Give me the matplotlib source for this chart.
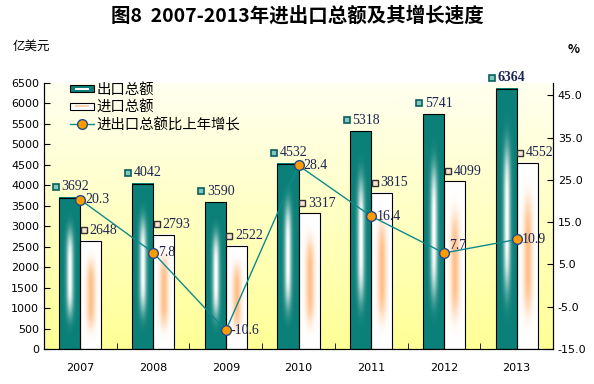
import numpy as np
import matplotlib.pyplot as plt
from matplotlib.patches import Patch, Rectangle
from matplotlib.lines import Line2D
from matplotlib.legend_handler import HandlerPatch

plt.rcParams['font.family'] = ['Noto Sans CJK SC', 'DejaVu Sans']

years = ['2007', '2008', '2009', '2010', '2011', '2012', '2013']
exports = [3692, 4042, 3590, 4532, 5318, 5741, 6364]
imports = [2648, 2793, 2522, 3317, 3815, 4099, 4552]
growth = [20.3, 7.8, -10.6, 28.4, 16.4, 7.7, 10.9]

TEAL = '#0B8078'
LABEL_COLOR = '#1c2550'
BAR_W = 0.29


def export_img():
    xx, yy = np.meshgrid(np.linspace(-1, 1, 40), np.linspace(-1, 1, 200))
    w = np.exp(-(xx / 0.32) ** 2) * np.exp(-(yy / 0.55) ** 4)
    base = np.array([11, 128, 120]) / 255.0
    img = base[None, None, :] * (1 - w[..., None]) + w[..., None]
    return img


def import_img():
    xx, yy = np.meshgrid(np.linspace(-1, 1, 40), np.linspace(-1, 1, 200))
    w = np.exp(-(xx / 0.4) ** 2) * np.exp(-(yy / 0.6) ** 4) * 0.85
    orange = np.array([255, 180, 115]) / 255.0
    img = (1 - w[..., None]) * 1.0 + w[..., None] * orange[None, None, :]
    return img


class GradHandler(HandlerPatch):
    def __init__(self, kind):
        super().__init__()
        self.kind = kind

    def create_artists(self, legend, orig_handle, xdescent, ydescent, width, height, fontsize, trans):
        out = Rectangle((-xdescent, -ydescent + height * 0.15), width, height * 0.7,
                        facecolor=TEAL if self.kind == 'exp' else 'white',
                        edgecolor='black', lw=0.8, transform=trans)
        inner = Rectangle((-xdescent + width * 0.2, -ydescent + height * 0.4), width * 0.6, height * 0.2,
                          facecolor='white' if self.kind == 'exp' else '#FFD2B0',
                          edgecolor='none', transform=trans)
        return [out, inner]


fig = plt.figure(figsize=(5.94, 3.84), dpi=100)
ax = fig.add_axes([0.0741, 0.0911, 0.8569, 0.6927])
x = np.arange(len(years))

ax.set_xlim(-0.5, len(years) - 0.5)
ax.set_ylim(0, 6500)

# background gradient
bg = np.linspace(0, 1, 256)[:, None]
top = np.array([255, 255, 240]) / 255.0
bot = np.array([255, 255, 150]) / 255.0
bgimg = top[None, None, :] * (1 - bg[..., None]) + bot[None, None, :] * bg[..., None]
ax.imshow(bgimg, extent=(-0.5, len(years) - 0.5, 0, 6500), aspect='auto', zorder=0, origin='upper')

eimg = export_img()
iimg = import_img()
for i in range(len(years)):
    x0 = x[i] - BAR_W
    ax.imshow(eimg, extent=(x0, x[i], 0, exports[i]), aspect='auto', zorder=1)
    ax.add_patch(Rectangle((x0, 0), BAR_W, exports[i], facecolor='none', edgecolor='black', lw=0.8, zorder=2))
    ax.imshow(iimg, extent=(x[i], x[i] + BAR_W, 0, imports[i]), aspect='auto', zorder=1)
    ax.add_patch(Rectangle((x[i], 0), BAR_W, imports[i], facecolor='none', edgecolor='black', lw=0.8, zorder=2))

    # value labels
    ax.plot(x0 - 0.05, exports[i] + 270, marker='s', ms=5, mfc='#7FC8C4', mec='#0a5f5a', mew=1.2,
            zorder=5, clip_on=False)
    ax.text(x0 + 0.03, exports[i] + 270, str(exports[i]), fontsize=10, family='Liberation Serif',
            color=LABEL_COLOR, va='center', ha='left', zorder=5,
            weight='bold' if i == len(years) - 1 else 'normal')
    ax.plot(x[i] + 0.05, imports[i] + 250, marker='s', ms=5, mfc='#FBE3D3', mec='#333333', mew=1.0, zorder=5)
    ax.text(x[i] + 0.13, imports[i] + 250, str(imports[i]), fontsize=10, family='Liberation Serif',
            color=LABEL_COLOR, va='center', ha='left', zorder=5)

ax.set_yticks(range(0, 6501, 500))
ax.set_xticks(x)
ax.set_xticklabels(years, fontsize=8, family='DejaVu Sans')
ax.set_xticks(np.arange(0.5, len(years) - 1, 1), minor=True)
ax.tick_params(axis='x', which='major', length=0, pad=10)
ax.tick_params(axis='x', which='minor', direction='in', length=4)
ax.tick_params(axis='y', direction='in', length=4, labelsize=8)
for lab in ax.get_yticklabels():
    lab.set_family('DejaVu Sans')
ax.spines['top'].set_visible(False)

ax2 = ax.twinx()
ax2.set_ylim(-15, 47.9)
ax2.set_yticks(np.arange(-15, 46, 10))
ax2.set_yticklabels([f'{v:.1f}' for v in np.arange(-15, 46, 10)], fontsize=8, family='DejaVu Sans')
ax2.tick_params(axis='y', direction='in', length=4)
ax2.spines['top'].set_visible(False)
ax2.plot(x, growth, color='#0E8A8A', lw=1.0, marker='o', ms=7, mfc='#FF9A00', mec='#1F4E8C', mew=1.0, zorder=6)
for i in range(len(years)):
    dy = 1.8 if growth[i] == 7.7 else 0
    ax2.text(x[i] + 0.07, growth[i] + dy, f'{growth[i]:.1f}', fontsize=10, family='Liberation Serif',
             color=LABEL_COLOR, va='center', ha='left', zorder=7)

handles = [Patch(), Patch(),
           Line2D([], [], color='#0E8A8A', lw=1.0, marker='o', ms=7, mfc='#FF9A00', mec='#1F4E8C')]
labels = ['出口总额', '进口总额', '进出口总额比上年增长']
ax.legend(handles, labels, loc='upper left', bbox_to_anchor=(0.025, 1.05), frameon=False,
          fontsize=10.4, handlelength=1.7, handletextpad=0.12, labelspacing=0.25,
          handler_map={handles[0]: GradHandler('exp'), handles[1]: GradHandler('imp')})

fig.text(0.5, 0.96, '图8  2007-2013年进出口总额及其增长速度', ha='center', va='center',
         fontsize=14, weight='bold')
fig.text(0.022, 0.88, '亿美元', ha='left', va='center', fontsize=9)
fig.text(0.965, 0.87, '%', ha='center', va='center', fontsize=9, weight='bold')

fig.savefig('out.png', dpi=100)
